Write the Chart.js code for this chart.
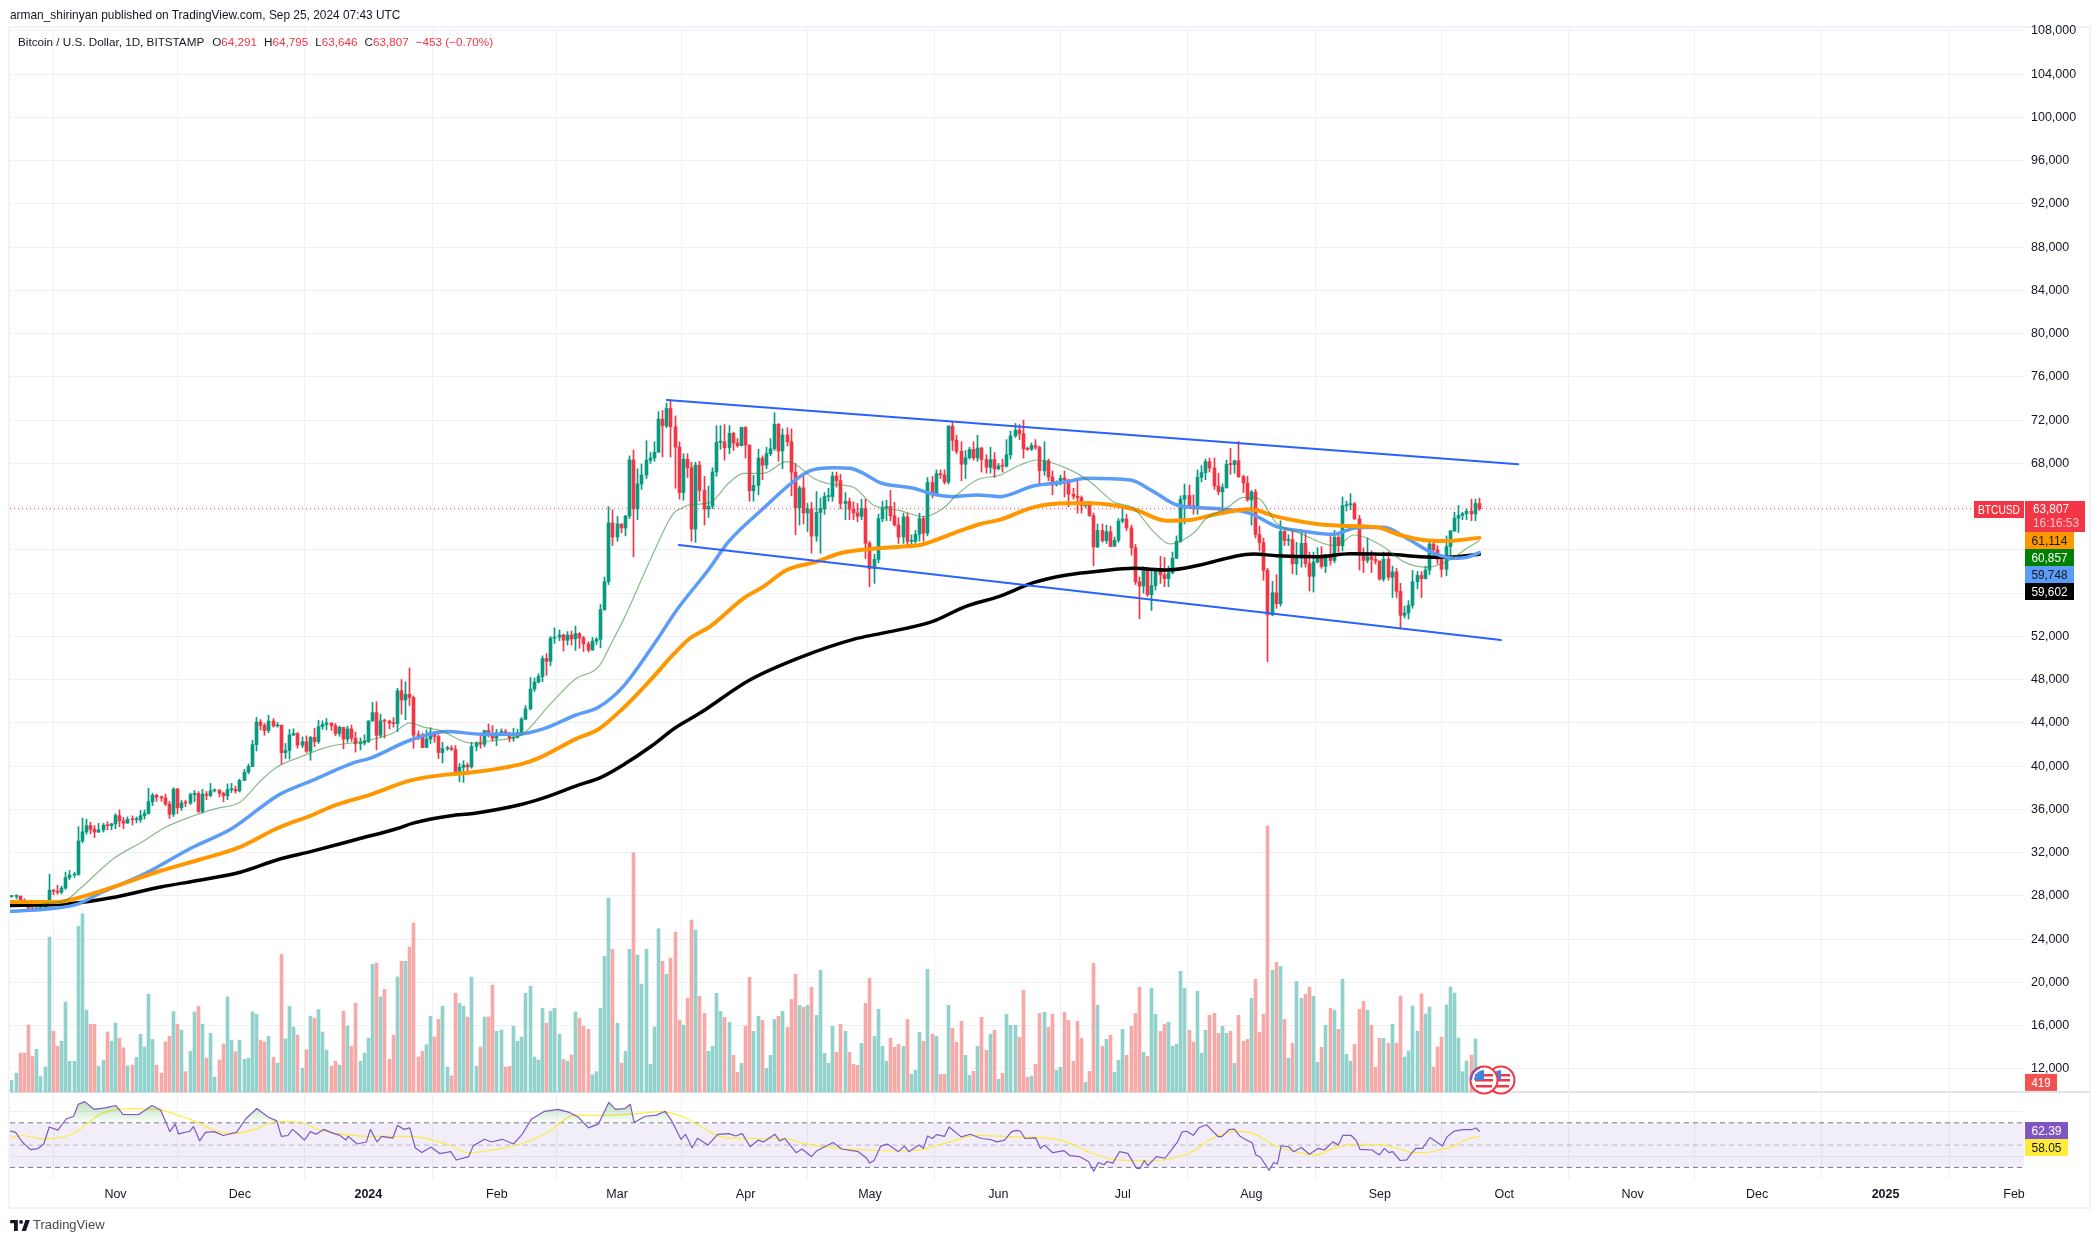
<!DOCTYPE html>
<html>
<head>
<meta charset="utf-8">
<title>BTCUSD</title>
<script src="https://cdn.jsdelivr.net/npm/chart.js@4/dist/chart.umd.min.js"></script>
<style>
  html, body { margin: 0; padding: 0; background: #fff; width: 2100px; height: 1243px; overflow: hidden; }
  body { font-family: "Liberation Sans", sans-serif; color: #131722; }
  canvas { position: absolute; left: 0; top: 0; }
  #frame { position: absolute; left: 8px; top: 26px; width: 2079px; height: 1179px; border: 2px solid #f0f3fa; }
  #divider { position: absolute; left: 10px; top: 1091px; width: 2079px; height: 2px; background: #e0e3eb; }
  #published { position: absolute; left: 10px; top: 8px; font-size: 11.9px; white-space: nowrap; }
  #legend { position: absolute; left: 18px; top: 35px; font-size: 11.7px; white-space: nowrap; color: #131722; }
  #legend b { font-weight: normal; color: #F23645; margin-right: 7px; }
  #legend .name { margin-right: 8px; }
  #logo { position: absolute; left: 10px; top: 1220px; }
  #brand { position: absolute; left: 33px; top: 1217px; font-size: 13px; color: #4a4a4a; }
  .flag { position: absolute; top: 1065px; }
</style>
</head>
<body>
<div id="frame"></div>
<div id="divider"></div>
<canvas id="chart" width="2100" height="1243"></canvas>
<div id="published">arman_shirinyan published on TradingView.com, Sep 25, 2024 07:43 UTC</div>
<div id="legend"><span class="name">Bitcoin / U.S. Dollar, 1D, BITSTAMP</span>O<b>64,291</b>H<b>64,795</b>L<b>63,646</b>C<b>63,807</b><b>−453 (−0.70%)</b></div>
<svg id="logo" width="20" height="12" viewBox="0 0 36 22"><path fill="#131722" d="M14 0H0v6h7v14h7V0zm15 20h-8l7-20h8l-7 20zM20 7a3.4 3.4 0 1 0 0-7 3.4 3.4 0 0 0 0 7z"/></svg>
<div id="brand">TradingView</div>
<svg class="flag" style="left:1486px" width="30" height="30" viewBox="0 0 30 30">
  <circle cx="15" cy="15" r="13.5" fill="#fff" stroke="#F23645" stroke-width="2"/>
  <rect x="6" y="9" width="18" height="2.5" fill="#F23645"/><rect x="6" y="14" width="18" height="2.5" fill="#F23645"/><rect x="7" y="20" width="16" height="2.5" fill="#F23645"/>
  <path d="M5 15 a10 10 0 0 1 10 -10 v10z" fill="#3d86e0"/>
</svg>
<svg class="flag" style="left:1469px" width="30" height="30" viewBox="0 0 30 30">
  <circle cx="15" cy="15" r="13.5" fill="#fff" stroke="#F23645" stroke-width="2"/>
  <path d="M2 15 a13 13 0 0 1 9 -12.4" fill="none" stroke="#7E57C2" stroke-width="2"/>
  <rect x="6" y="9" width="18" height="2.5" fill="#F23645"/><rect x="6" y="14" width="18" height="2.5" fill="#F23645"/><rect x="7" y="20" width="16" height="2.5" fill="#F23645"/>
  <path d="M5 15 a10 10 0 0 1 10 -10 v10z" fill="#3d86e0"/>
</svg>
<script>
// x axis is days since 1 Nov 2023, first candle is 7 Oct 2023 (day -25)
const firstDay = -25;
const monthDays = [0, 30, 61, 92, 121, 152, 182, 213, 243, 274, 305, 335, 366, 396, 427, 458];
const monthLabels = ["Nov", "Dec", "2024", "Feb", "Mar", "Apr", "May", "Jun", "Jul", "Aug", "Sep", "Oct", "Nov", "Dec", "2025", "Feb"];
const priceTicks = [12000, 16000, 20000, 24000, 28000, 32000, 36000, 40000, 44000, 48000, 52000, 56000, 60000, 64000, 68000, 72000, 76000, 80000, 84000, 88000, 92000, 96000, 100000, 104000, 108000];
const rsiTicks = [40, 80];

const opens = [
  27930,27950,27970,27590,27390,26880,26760,26860,26860,27150,28520,28420,28330,28720,29680,29920,29990,33080,33920,34500,34150,33900,34090,34530,34490,
  34660,35420,34940,34730,35080,35040,35040,35420,35620,36700,37300,37130,37060,36490,35550,37880,36150,36590,36580,37370,37470,35810,37410,37290,37720,37790,37480,37250,37830,37850,
  37710,38680,39450,39970,41990,44080,43770,43290,44170,43720,43790,41240,41450,42890,43020,41940,42260,41370,42650,42270,43650,43860,43990,43740,43020,43590,42510,43440,42580,42070,42140,
  42280,44180,44950,42850,44180,44160,43970,43930,46970,46120,46650,46340,42850,42840,41730,42510,43140,42740,41260,41620,41670,41540,39500,39900,40090,39930,41820,42120,42030,43300,42950,
  42580,43080,43200,43010,42580,42660,43090,44340,45290,47130,47770,48290,49960,49700,51830,51930,52130,51650,52120,51770,52260,51850,51320,50740,51570,51730,54480,57060,62500,
  61200,62400,62030,63130,68330,63800,66100,66930,68300,68500,69020,72100,71480,73080,71390,69500,65300,68390,67610,61930,67850,65500,63790,64040,67210,69960,69990,69450,70780,69890,69640,
  71330,69700,65470,65970,68490,67840,68900,69360,71620,69150,70640,70010,67190,63910,65740,63420,63790,61280,63470,63820,64940,64940,66840,66410,64290,64490,63760,63420,63110,63840,
  60610,58250,59120,62890,63890,64010,63160,62310,61190,63050,60790,60800,61450,62900,61550,66240,65230,67050,66940,66270,71450,70140,69120,67930,68530,69290,68510,69420,68360,67640,68350,
  67490,67760,67750,68800,70550,71080,70760,69340,69310,69650,69500,67320,68240,66750,66010,66190,66640,66490,65150,64960,64830,64100,64240,63180,60280,61800,60860,61680,60320,60890,
  62670,62860,62030,60200,57040,56660,58240,55850,56700,58030,57700,57340,57880,59230,60800,64700,65040,64090,63970,66710,67150,68160,67570,65920,65370,65770,67910,67900,68250,66780,66190,
  64620,65360,61420,60680,58110,53990,56030,55030,61710,60880,60940,58710,59350,60610,58740,57560,58880,59470,58480,59490,59020,61170,60380,64090,64180,64250,62880,59500,59030,59370,59120,
  58970,57300,59130,57480,57970,56160,53950,54160,54880,57050,57640,57340,58130,60540,60000,59130,58210,60310,61760,62940,63190,63350,63580,63330,64291
];
const highs = [
  28050,28100,27990,27730,27480,26950,27100,26980,27280,30000,28600,28980,28900,30200,30350,30200,34400,35200,35100,34800,34500,34700,34700,34850,34700,
  35600,35950,35250,35300,35400,35300,35900,35950,37950,37500,37400,37250,37400,36750,38000,37950,36850,36850,37500,37750,37650,37850,37650,38400,37900,37800,37600,38350,38400,38150,
  38800,39700,40200,42400,44500,44300,43950,44700,44400,44050,43800,42100,43400,43450,43100,42700,42800,42750,43500,44250,44200,44400,44000,43950,43700,43600,43700,43800,43150,42600,42900,
  44200,45900,45950,44800,44350,44250,44500,47200,48000,47800,49080,46500,43250,43050,43350,43550,43200,42900,42200,41850,41900,41900,40250,40500,40300,42200,42250,42850,43300,43900,43750,
  43400,43450,43400,43150,43500,43400,44500,45600,48200,48150,48550,50200,50400,52000,52800,52600,52200,52450,52500,52950,52350,52000,51500,51900,51900,54950,57500,64000,63700,
  63100,62400,63200,68700,69240,67500,67950,70100,69000,70000,72800,72900,73600,73870,72400,70000,68900,68900,68100,68100,68200,66800,65900,67600,71500,71500,71600,71500,70900,70300,71350,
  71400,69700,66900,69300,68700,69500,70300,72700,71700,71200,71300,71200,68000,65900,66800,64300,64400,65400,64800,65300,65700,67200,67200,67000,65300,64800,64450,64300,64700,64700,
  60800,59600,63300,64500,64600,65500,64400,63000,63400,63400,61400,61800,63400,63100,66700,66800,67400,67400,67400,71500,71900,70600,70000,69200,69500,70000,70600,69500,68800,69500,69000,
  68000,68400,70200,71000,71700,71600,72000,69500,69900,70200,69600,70000,68400,67300,66400,66900,67300,66500,65700,66400,65000,64500,64500,63400,62400,62400,62300,62200,61200,62900,
  63800,63300,62300,60500,57500,58450,58400,58250,58200,59400,59300,58500,59800,61300,65000,66100,66000,65100,67400,67800,68400,68500,68500,67100,66100,68300,69400,68300,70040,66900,66800,
  65500,65600,62200,61100,58300,57100,57700,62700,61800,61400,61800,60700,61600,61800,59800,59800,60200,60300,59600,61300,61800,61400,64900,64500,65200,64400,63200,60200,61100,59900,59400,
  59000,59800,59800,58500,58300,56900,54800,55300,58100,58000,58000,58500,60700,60700,60400,59200,61300,61800,63500,64100,63500,63800,64700,64700,64795
];
const lows = [
  27860,27720,27300,27150,26550,26560,26700,26800,26820,27120,28100,28150,28170,28600,29500,29700,29880,32900,33700,33750,33400,33850,33900,34100,34100,
  34200,34400,34200,34700,34550,34750,34800,35100,35550,36350,36750,36750,36350,35150,35350,35600,35900,36250,36450,36700,35700,35650,36900,37150,37600,37150,36700,36900,37550,37500,
  37600,38650,39300,39950,41400,43350,42850,43100,43600,43600,40200,40700,40650,42800,41650,41700,41250,40550,41800,42100,43400,43350,43300,42800,42750,41600,42200,42300,41300,41500,41950,
  42180,44150,41500,42650,42600,43450,43600,43200,44800,44300,45600,41650,42450,41700,41700,42100,42200,40700,40300,41450,41450,39400,38550,38500,39500,39800,41400,41650,41800,42700,42300,
  41900,42800,42900,42250,42300,42600,42800,44300,45200,46900,47700,47800,48400,49300,51350,51600,50650,51200,51200,50700,50900,50600,50550,50700,51250,50950,54400,56800,60400,
  60800,61600,61300,62900,59370,62800,65600,66600,68000,68200,69200,68600,71300,68600,65700,64700,64600,66700,60800,60700,64500,62300,63000,63800,66800,69300,68300,68900,69200,69500,69600,
  68500,64500,64500,65100,66500,67500,68700,69200,68200,67500,69600,65000,61400,62300,62400,61700,59700,60800,59700,63300,64500,64500,65800,63800,62800,62800,62800,62600,62800,59200,
  56600,56900,58800,62600,62700,62700,62200,60600,60600,60200,60500,60600,60800,60800,61300,64800,65100,66600,66100,66100,69200,68900,66400,66600,68400,68300,68200,67200,67100,67100,66700,
  67400,67200,67650,68400,70400,70200,68500,69200,69200,69300,66100,66900,66400,65100,65900,66000,64900,64000,64700,63400,63400,63900,63100,58540,60200,60700,60600,60300,60500,60700,
  62500,61800,59500,56800,53640,56000,55700,54400,56300,56900,56600,56600,57800,59200,60700,62400,63900,63300,63300,66300,66500,67200,65600,65100,63500,65700,67000,67100,66700,65300,64500,
  62300,61100,59900,57200,49660,53900,54600,54800,60400,60400,57800,57700,58400,58400,56200,56100,58800,58300,57900,58600,58800,59800,59900,63600,63700,62800,58140,57900,58800,57900,58700,
  57200,57100,57200,55600,55600,52700,53700,53600,54600,56400,55600,57300,57700,59500,58700,57500,57600,59200,61700,61600,62800,62800,62700,62700,63646
];
const closes = [
  27950,27970,27590,27390,26880,26760,26860,26860,27150,28520,28420,28330,28720,29680,29920,29990,33080,33920,34500,34150,33900,34090,34530,34490,34660,
  35420,34940,34730,35080,35040,35040,35420,35620,36700,37300,37130,37060,36490,35550,37880,36150,36590,36580,37370,37470,35810,37410,37290,37720,37790,37480,37250,37830,37850,37710,
  38680,39450,39970,41990,44080,43770,43290,44170,43720,43790,41240,41450,42890,43020,41940,42260,41370,42650,42270,43650,43860,43990,43740,43020,43590,42510,43440,42580,42070,42140,42280,
  44180,44950,42850,44180,44160,43970,43930,46970,46120,46650,46340,42850,42840,41730,42510,43140,42740,41260,41620,41670,41540,39500,39900,40090,39930,41820,42120,42030,43300,42950,42580,
  43080,43200,43010,42580,42660,43090,44340,45290,47130,47770,48290,49960,49700,51830,51930,52130,51650,52120,51770,52260,51850,51320,50740,51570,51730,54480,57060,62500,61200,
  62400,62030,63130,68330,63800,66100,66930,68300,68500,69020,72100,71480,73080,71390,69500,65300,68390,67610,61930,67850,65500,63790,64040,67210,69960,69990,69450,70780,69890,69640,71330,
  69700,65470,65970,68490,67840,68900,69360,71620,69150,70640,70010,67190,63910,65740,63420,63790,61280,63470,63820,64940,64940,66840,66410,64290,64490,63760,63420,63110,63840,60610,
  58250,59120,62890,63890,64010,63160,62310,61190,63050,60790,60800,61450,62900,61550,66240,65230,67050,66940,66270,71450,70140,69120,67930,68530,69290,68510,69420,68360,67640,68350,67490,
  67760,67750,68800,70550,71080,70760,69340,69310,69650,69500,67320,68240,66750,66010,66190,66640,66490,65150,64960,64830,64100,64240,63180,60280,61800,60860,61680,60320,60890,62670,
  62860,62030,60200,57040,56660,58240,55850,56700,58030,57700,57340,57880,59230,60800,64700,65040,64090,63970,66710,67150,68160,67570,65920,65370,65770,67910,67900,68250,66780,66190,64620,
  65360,61420,60680,58110,53990,56030,55030,61710,60880,60940,58710,59350,60610,58740,57560,58880,59470,58480,59490,59020,61170,60380,64090,64180,64250,62880,59500,59030,59370,59120,58970,
  57300,59130,57480,57970,56160,53950,54160,54880,57050,57640,57340,58130,60540,60000,59130,58210,60310,61760,62940,63190,63350,63580,63330,64291,63807
];
const volumes = [
  300,490,1010,1010,1740,930,1110,400,650,4030,1580,1190,1320,2340,800,800,4310,4630,2130,1760,1760,670,830,1560,1320,
  1790,1400,1150,680,700,900,1500,1170,2540,1370,700,490,1300,1450,2090,1760,1610,530,1060,2080,2230,1760,880,1530,390,830,1250,2470,1350,1050,
  1350,850,880,2080,2020,1350,1300,1450,900,750,3580,1380,2230,1690,1480,620,1100,1970,1920,2140,1560,1090,670,800,700,2100,1720,1190,2310,800,1010,
  1400,3320,3350,2470,2670,850,1480,2990,3400,3400,3770,4390,910,1060,1230,1970,1430,1890,2230,650,420,2570,2310,2230,1950,2990,670,1170,1950,1950,2780,
  1580,1610,650,670,1710,1320,1430,2570,2750,910,830,2180,1790,2100,2180,1500,850,800,960,2080,1920,1710,1630,450,530,2180,3530,5040,
  3710,1790,750,1060,3710,6220,3560,2800,3710,720,1690,4240,3400,3060,3480,4160,1870,1740,2440,4470,4210,
  2488,2046,1058,1188,2566,2098,1942,1812,954,512,
  746,1708,2982,1578,1968,1864,616,954,1890,1968,
  2098,1682,2410,3061,2254,2202,2254,2722,1994,3165,
  1006,746,1708,1032,1760,1578,1032,720,694,1266,
  2306,2956,1448,2150,1188,798,1396,1162,1240,1188,
  1890,460,564,1552,1318,3191,1500,1448,460,460,
  2254,1656,1292,1838,954,434,538,1188,1942,1084,
  1500,1604,330,486,2020,1734,1734,1422,2644,382,
  408,720,2046,2072,1682,2020,564,642,2072,1864,
  798,1838,1396,251,538,3347,2254,1188,1370,1474,
  512,824,1630,954,1708,2046,2722,1032,928,2696,
  2020,1578,1760,1812,1188,1240,3139,2696,1604,1292,
  2618,1006,1604,1994,2046,1526,1708,1526,1578,746,
  1994,1318,1370,2436,2930,1552,2020,6916,3165,3373,
  3269,1890,876,1266,2878,2436,2540,2722,2488,772,
  1162,1734,2176,2124,1630,2930,980,798,1240,2150,
  2358,2124,1734,642,1396,1396,1266,1760,1266,
  2497,910,1066,2237,1587,2549,2029,2211,650,1170,1430,2263,2731,2575,1405,529,806,962,1379,419
];

const ma20Days = [-17.4,-11.8,-8.6,-0.5,6.7,11.5,18.8,24.4,30,34.8,38.9,44.5,51.7,60.6,67,71,74.5,78.2,85.8,90.6,98.1,104.6,111.1,116.5,120.1,122.9,129,134.6,136.6,138.2,143.4,147.9,151.5,156.3,161.9,164.3,168.4,172.4,178,182.8,189.3,194.9,199.7,202.9,207.8,213.4,218.2,222.2,229.5,235.1,240.7,245.6,250.4,254.4,260,263.2,268,272.1,275.7,280.1,285.8,293.8,296.2,298.6,305.9,310.7,316.3,321.9,326,329];
const ma20 = [27256,27628,28651,31441,33053,34231,35409,36091,36649,38571,39904,40834,41826,42353,43066,43996,43592,43307,42133,42346,42951,45619,48110,49177,51732,53829,59070,63386,63848,64157,64373,66161,67085,67085,68165,67856,66623,66099,65791,64157,63633,63078,63848,65082,66469,66932,67855,68318,67547,66314,64464,63847,61689,60548,61535,62922,63847,64865,64772,62460,61535,60394,60764,61381,60302,58915,58391,59069,60148,60857];
const ma50Days = [-25.4,-17.1,-9.6,-3.1,6.6,18.4,28.1,39.5,47.5,57.2,61.5,71.2,79.8,88.5,97.1,103.5,111.1,116.5,122.4,130.6,135.4,143,147.9,156.3,163.5,167.6,173.2,177.2,180.4,184.4,192.5,197.3,202.1,207.8,213.4,221.4,229.5,234.3,244.8,250.4,256,264,273.7,280.1,285.8,293.8,299.4,305.9,311.5,317.1,322.7,326,329];
const ma50 = [26584,26762,27190,28363,29964,32455,34234,37365,38681,40282,40745,42417,43200,42951,42951,43485,44730,45441,47327,51670,54445,58145,60765,63848,66315,67332,67610,67548,67086,66222,65698,65143,64927,65082,64927,65913,66314,66622,66468,65389,64155,63847,63385,62152,61781,61443,62059,62090,61073,59840,59223,59315,59748];
const ma100Days = [-25.4,-13.9,-9.6,0.1,10.9,20.6,30.3,38.9,47.5,52.9,61.5,71.2,79.8,85.2,98.1,102.5,111.1,116.5,122.4,129.4,134.8,138.6,143.4,151.5,156.3,161.9,169.2,174.8,181.2,189.3,194.1,202.1,208.6,213.4,221.4,229.5,235.1,245.6,253.6,259.2,265.7,273.7,280.1,289.8,295.4,304.3,309.9,315.5,321.1,329];
const ma100 = [27438,27438,27758,28897,30320,31387,32561,34234,35479,36369,37365,38681,39215,39393,40211,40816,42524,43413,45335,48110,50423,51825,52904,55524,56603,58145,58916,59687,60056,60303,60457,61536,62399,62800,63940,64310,64310,63755,62707,62768,63323,63755,63077,62398,62244,62090,61381,60918,60826,61114];
const ma200Days = [-25.4,-13.9,0.1,10.9,20.6,30.3,38.9,47.5,58.3,68,71.8,80.9,86.3,98.1,103.5,111,117.5,122.9,129.4,134.8,141,153,166,178,185,197,205,213.4,221.4,229.5,237.5,245.6,253.6,261.6,269.7,274.5,280.1,289.8,297.8,307.5,314.7,321.1,329];
const ma200 = [27118,27190,27900,28825,29465,30213,31316,32134,33238,34234,34732,35408,35622,36475,37080,38148,39037,40211,41883,43485,44908,47965,50180,51730,52300,53360,54750,55720,56972,57681,58051,58298,58144,58606,59376,59623,59469,59376,59654,59592,59376,59315,59602];

const trendUpperDays = [133, 338.4];
const trendUpper = [73868, 67920];
const trendLowerDays = [135.9, 334.2];
const trendLower = [60455, 51660];
const lastPrice = 63807;

const rsiDays = [-25.5,-24.1,-22.5,-20.5,-18.7,-17.3,-16,-13.9,-11.9,-10.1,-9,-7.4,-5.2,-2.5,0.1,1.8,5.5,8.8,10.9,13.1,14.4,15.2,17.9,18.8,20.3,21.7,23.8,26,29.2,31.4,34.1,36.8,38.9,40,41.6,42.7,44.1,45.6,47,48.4,50.2,52.4,54,55.6,56.1,58.3,60.5,61.5,63.1,64.2,66.9,68,69.6,71,72.3,73.9,76.1,78.2,80.9,82.2,85.2,86.3,89,90.6,93.3,96,98.1,100.3,103.5,106.8,109.5,111.6,114.1,116.5,119,120.6,122.9,124.2,125.1,127.8,130.5,132.6,134.2,136.4,137.5,139.1,140.4,
  142.9,145.3,148,149.6,151.2,153.1,155,156.4,159.1,160.2,161.5,164.2,165.6,167.9,169.2,173.1,175.2,179.2,181.2,181.9,183,184.6,186.2,188.9,190.3,191.4,193.8,194.9,195.9,197,198.1,200,201.1,204,206.2,208.9,211,212.6,214.5,216.1,217.3,218.3,219.4,222,223.1,224.1,226.1,228.8,230.2,232.5,234.7,236,237.1,238.5,239.2,240.6,242.2,244.2,246.3,247.1,248.2,249,251.1,253.2,256.2,257.3,258.4,260,261.4,263.2,265.9,266.8,268.6,269.9,271.3,272.6,274.2,275.1,276.2,278.3,279.4,280.3,281.2,283,284.2,286.1,288,290.2,291.6,293.7,295,296.1,298,299.3,300.2,303.1,304.9,306.1,307.2,308.1,309.9,311.5,312.6,313.7,315.3,317.1,320.1,321.2,323,325,327.1,328.2,329];
const rsi = [62.8,61.4,52.8,45.9,46.9,51,66.2,63.4,73.4,75.9,86.6,89,82.1,83.4,85.5,77.6,77.2,85.5,81.4,62.1,69,60,62.4,66.6,53.8,61.4,62.1,58.6,61.4,73.4,82.8,75.2,71.7,57.9,58.6,64.1,59.7,54.5,62.1,59.7,64.1,60.7,59,54.5,57.9,51,52.8,64.1,52.8,57.9,56.2,67.6,64.1,65.5,47.6,43.4,48.3,42.4,44.1,36.6,39.7,49.3,55.2,52.8,55.2,51,59.7,73.1,80.3,82.1,79.3,75.2,65.5,69,88.3,82.1,82.8,86.6,70.3,75.9,76.9,80.3,71.7,55.2,59.7,47.6,56.2,
  50,59.7,60.3,58.2,60.3,48.5,54.4,52.9,59.7,53.8,55.9,43.2,46.5,39.7,45,52.4,46.5,44.1,38.2,33.8,36.2,49.1,50.9,44.1,49.1,44.1,50,47.1,58.2,55.9,59.4,57.9,66.2,57.4,59.7,55.9,55,52.9,54.4,61.8,63.2,62.4,55.9,56.5,47.1,50,43.2,45,40.6,39.7,35.3,26.5,34.4,32.4,35.3,33.8,44.1,42.6,29.4,28.8,36.2,31.5,39.7,38.2,52.9,61.8,62.4,58.8,65.6,68.2,57.9,57.4,63.8,64.4,57.9,55,52.1,41.2,39.1,27.4,34.4,33.2,49.4,48.5,44.1,47.9,41.8,47.1,45.6,52.9,50,58.8,58.8,54.4,46.2,45.6,41.2,47.1,43.2,44.1,36.2,36.8,42.6,47,47,56.8,49.1,57.4,62.6,63.8,63.8,65.3,62.39];
const rsiMaDays = [-25.5,-22.5,-17.1,-10.6,-7.4,-3.6,0.7,4.4,10.9,18.4,24.9,29.2,33.5,38.9,44.3,49.1,55.1,61.5,71.2,79.8,85.2,90.6,97.1,103.5,111.1,117.5,125.1,131.5,136.9,141,144.2,147.5,152.8,161.5,165.8,172.2,180.8,190.5,194.9,201.3,207.8,216.4,223.9,229.3,234.7,240.1,248.7,255.2,260.5,263.8,270.2,274.5,279.9,286.4,289.6,293.9,299.3,305.8,309.9,313.1,315.8,320.1,322.8,326,329];
const rsiMa = [56.2,58.6,55.5,59.7,67.6,77.9,82.1,82.8,81.4,72.4,62.1,60.7,64.1,71,70.7,63.8,59.7,57.9,57.9,51,43.1,45.5,50.3,59.7,76.9,76.6,78,80,75.2,67.1,60.3,56.5,55.9,55.9,51.5,47.9,45.6,44.7,46.2,52.9,58.8,57.4,56.5,52.9,44.1,37.4,35.9,38.2,45.6,54.4,62.4,60.3,49.4,42.6,41.2,47.1,50.6,50,46.5,43.2,43.2,46.2,49.1,55,58.05];
const rsiLevels = [70, 50, 30];

const GREEN = "#089981";
const RED = "#F23645";
const GRID = "#eff0f3";
const X_MIN = -25.45;
const X_MAX = 460.4;

const days = opens.map((_, i) => firstDay + i);
const isUp = opens.map((o, i) => closes[i] >= o);
const candleColors = isUp.map((u) => (u ? GREEN : RED));
const volumeColors = isUp.map((u) => (u ? "#92d2cc" : "#f7a9a7"));
const toXY = (xs, ys) => xs.map((x, i) => ({ x, y: ys[i] }));

function lineSet(label, xs, ys, color, width, order, extra) {
  return Object.assign({
    type: "line", label, data: toXY(xs, ys), borderColor: color, borderWidth: width,
    pointRadius: 0, order, xAxisID: "x", yAxisID: "y", cubicInterpolationMode: "monotone",
    borderCapStyle: "round", borderJoinStyle: "round", fill: false,
  }, extra || {});
}
function levelSet(label, level, color, order, extra) {
  return lineSet(label, [X_MIN, X_MAX], [level, level], color, 1, order,
    Object.assign({ yAxisID: "rsi", borderDash: [5, 4], borderCapStyle: "butt" }, extra || {}));
}

// bars snap to whole pixels like the original, otherwise the 1px wicks blur
const snapBars = {
  id: "snapBars",
  beforeDatasetDraw(chart, args) {
    if (args.meta.type !== "bar") return;
    args.meta.data.forEach((el) => { el.x = Math.floor(el.x) + 0.5; });
  },
};

const priceTags = [
  { text: "61,114", fill: "#FF9800", ink: "#131722" },
  { text: "60,857", fill: "#008000", ink: "#ffffff" },
  { text: "59,748", fill: "#5B9CF6", ink: "#131722" },
  { text: "59,602", fill: "#000000", ink: "#ffffff" },
];

// tag text is squeezed with maxWidth, the original font is narrower than Liberation
function tag(ctx, x, y, w, h, fill, ink, text, textWidth) {
  ctx.fillStyle = fill;
  ctx.fillRect(x, y, w, h);
  ctx.fillStyle = ink;
  ctx.textBaseline = "middle";
  ctx.textAlign = "center";
  ctx.fillText(text, x + w / 2, y + h / 2 + 0.5, textWidth);
}

const axisTags = {
  id: "axisTags",
  afterDraw(chart) {
    const { ctx, scales } = chart;
    const top = Math.round(scales.y.getPixelForValue(lastPrice)) - 8;
    ctx.save();
    ctx.font = "13.5px 'Liberation Sans'";
    tag(ctx, 1974, top, 50, 17, RED, "#ffffff", "BTCUSD", 42);
    ctx.fillStyle = RED;
    ctx.fillRect(2025, top, 60, 31);
    ctx.textBaseline = "middle";
    ctx.textAlign = "left";
    ctx.fillStyle = "#ffffff";
    ctx.fillText("63,807", 2033, top + 8.5, 36);
    ctx.fillStyle = "rgba(255,255,255,0.72)";
    ctx.fillText("16:16:53", 2033, top + 22.5, 46);
    priceTags.forEach((t, i) => tag(ctx, 2025, top + 31 + i * 17, 49, 17, t.fill, t.ink, t.text, 36));
    tag(ctx, 2025, scales.vol.getPixelForValue(volumes[volumes.length - 1]) - 2, 32, 17, "#EF5350", "#ffffff", "419", 19);
    const r = Math.round(scales.rsi.getPixelForValue(70));
    tag(ctx, 2025, r - 1, 43, 17, "#7E57C2", "#ffffff", "62.39", 30);
    tag(ctx, 2025, r + 16, 43, 17, "#FFEB3B", "#131722", "58.05", 30);
    ctx.restore();
  },
};

const canvas = document.getElementById("chart");
const ctx2d = canvas.getContext("2d");
const obFill = ctx2d.createLinearGradient(0, 1098, 0, 1123);
obFill.addColorStop(0, "rgba(76,175,80,0.45)");
obFill.addColorStop(1, "rgba(76,175,80,0.02)");

new Chart(canvas, {
  type: "bar",
  data: {
    datasets: [
      { label: "Volume", data: toXY(days, volumes), backgroundColor: volumeColors, barThickness: 3, borderWidth: 0, grouped: false, order: 20, xAxisID: "x", yAxisID: "vol" },
      levelSet("RSI upper", rsiLevels[0], "#787B86", 19, { fill: { target: "+2" }, backgroundColor: "rgba(126,87,194,0.1)" }),
      levelSet("RSI middle", rsiLevels[1], "rgba(120,123,134,0.5)", 18),
      levelSet("RSI lower", rsiLevels[2], "#787B86", 17),
      { label: "Wicks", data: days.map((d, i) => ({ x: d, y: [lows[i], highs[i]] })), backgroundColor: candleColors, barThickness: 1, borderWidth: 0, grouped: false, order: 15, xAxisID: "x", yAxisID: "y" },
      { label: "Candles", data: days.map((d, i) => ({ x: d, y: [opens[i], closes[i]] })), backgroundColor: candleColors, barThickness: 3, minBarLength: 1, borderWidth: 0, grouped: false, order: 14, xAxisID: "x", yAxisID: "y" },
      lineSet("MA 200", ma200Days, ma200, "#000000", 3.5, 13),
      lineSet("MA 50", ma50Days, ma50, "#5B9CF6", 3.5, 12),
      lineSet("MA 100", ma100Days, ma100, "#FF9800", 4, 11),
      lineSet("MA 20", ma20Days, ma20, "rgba(56,142,60,0.6)", 1.2, 10),
      lineSet("Channel top", trendUpperDays, trendUpper, "#2962FF", 2, 9, { cubicInterpolationMode: "default" }),
      lineSet("Channel bottom", trendLowerDays, trendLower, "#2962FF", 2, 8, { cubicInterpolationMode: "default" }),
      lineSet("Last", [X_MIN, X_MAX], [lastPrice, lastPrice], RED, 1, 7, { borderDash: [1, 3], borderCapStyle: "butt" }),
      lineSet("RSI based MA", rsiMaDays, rsiMa, "#FFEB3B", 1.2, 6, { yAxisID: "rsi" }),
      lineSet("RSI", rsiDays, rsi, "#7E57C2", 1.2, 5, {
        yAxisID: "rsi", cubicInterpolationMode: "default",
        fill: { target: { value: 70 }, above: obFill, below: "rgba(0,0,0,0)" },
      }),
    ],
  },
  plugins: [snapBars, axisTags],
  options: {
    responsive: false,
    animation: false,
    devicePixelRatio: 1,
    events: [],
    layout: { padding: { left: 10, top: 28, right: 0, bottom: 0 } },
    plugins: { legend: { display: false }, tooltip: { enabled: false } },
    scales: {
      x: {
        type: "linear", min: X_MIN, max: X_MAX, offset: false,
        afterBuildTicks(s) { s.ticks = monthDays.map((value) => ({ value })); },
        afterFit(s) { s.height = 63; },
        grid: { color: GRID, drawTicks: false },
        border: { display: false },
        ticks: {
          autoSkip: false, maxRotation: 0, padding: 7, color: "#131722",
          font: (c) => ({ family: "'Liberation Sans'", size: 12.5, weight: /^20/.test(monthLabels[monthDays.indexOf(c.tick && c.tick.value)] || "") ? "bold" : "normal" }),
          callback: (v) => monthLabels[monthDays.indexOf(v)],
        },
      },
      rsi: {
        axis: "y", position: "right", min: 18.7, max: 1051.9,
        afterBuildTicks(s) { s.ticks = rsiTicks.map((value) => ({ value })); },
        afterFit(s) { s.width = 0; },
        grid: { color: GRID, drawTicks: false },
        border: { display: false },
        ticks: { autoSkip: false, padding: 8, color: "#131722", font: { family: "'Liberation Sans'", size: 12.5 }, callback: (v) => v.toFixed(2) },
      },
      y: {
        position: "right", min: 1717, max: 108277,
        afterBuildTicks(s) { s.ticks = priceTicks.map((value) => ({ value })); },
        afterFit(s) { s.width = 76; },
        grid: { color: GRID, drawTicks: false },
        border: { display: false },
        ticks: { autoSkip: false, padding: 7, color: "#131722", font: { family: "'Liberation Sans'", size: 12.5 }, callback: (v) => v.toLocaleString("en-US") },
      },
      vol: { axis: "y", display: false, position: "right", min: -2288, max: 27664 },
    },
  },
});
</script>
</body>
</html>
